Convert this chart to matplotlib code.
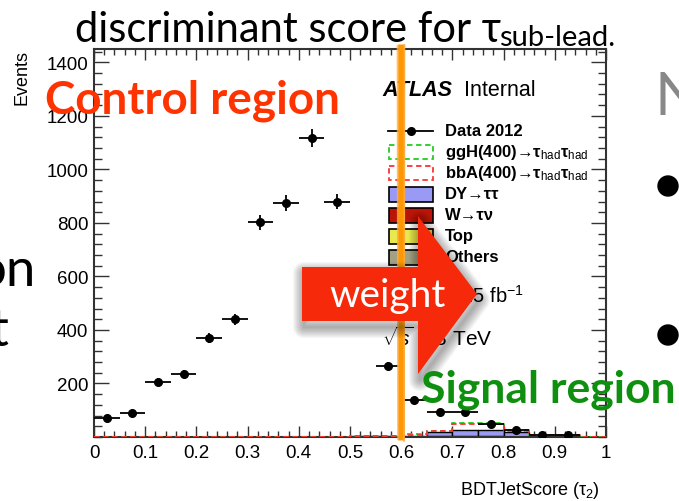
import numpy as np
import matplotlib
matplotlib.use("Agg")
import matplotlib.pyplot as plt
from matplotlib.patches import Rectangle, Polygon, Circle
from matplotlib.ticker import MultipleLocator

plt.rcParams["mathtext.fontset"] = "custom"
plt.rcParams["mathtext.rm"] = "Liberation Sans"
plt.rcParams["mathtext.it"] = "Liberation Sans:italic"
plt.rcParams["mathtext.bf"] = "Liberation Sans:bold"

W, H = 679, 502

# BDT score binning, 20 bins of 0.05
edges = np.linspace(0.0, 1.0, 21)
centers = 0.5 * (edges[:-1] + edges[1:])

data_2012 = [71, 90, 205, 235, 369, 440, 802, 873, 1116, 880,
             530, 265, 138, 93, 93, 48, 26, 7, 7, 0]

# backgrounds (stacked, bottom first)
bkg_others = [0, 0, 0, 0, 0, 0, 0, 0, 0, 0, 0.5, 0.5, 0.5, 0.5, 0.5, 0.5, 0.5, 0.5, 0.5, 0]
bkg_top = [0, 0, 0, 0, 0, 0, 0, 0, 0, 0, 0.3, 0.3, 0.3, 0.5, 0.5, 0.5, 0.3, 0.3, 0.3, 0]
bkg_w = [0, 0, 0, 0, 0, 0, 0, 0, 0, 0, 0.7, 0.7, 1, 1, 1, 1, 1, 0.7, 0.7, 0]
bkg_dy = [0, 0, 0, 0, 0, 0, 0, 0, 0, 0, 1, 2, 3, 18, 26, 26, 16, 3, 2, 0]

# signal hypotheses, drawn on top of the total background
sig_ggh = [0, 0, 0, 0, 0, 0, 0, 0, 0, 0, 0, 1, 6, 3, 24, 24, 7, 3, 3, 0]
sig_bba = [0, 0, 0, 0, 0, 0, 0, 0, 0, 0, 0, 1, 2, 2, 19, 19, 5, 4, 4, 0]

stack_names = ["Others", "Top", "W→τν", "DY→ττ"]
stack_values = [bkg_others, bkg_top, bkg_w, bkg_dy]
stack_colors = ["#a2a283", "#e9e84c", "#bb1408", "#9a9af5"]

x_ticks = [0, 0.1, 0.2, 0.3, 0.4, 0.5, 0.6, 0.7, 0.8, 0.9, 1.0]
x_ticklabels = ["0", "0.1", "0.2", "0.3", "0.4", "0.5", "0.6", "0.7", "0.8", "0.9", "1"]
y_ticks = [200, 400, 600, 800, 1000, 1200, 1400]

hel = ["Liberation Sans", "DejaVu Sans"]
gill = ["Lato", "DejaVu Sans"]

fig = plt.figure(figsize=(W / 100, H / 100), dpi=100)
ax = fig.add_axes([94 / W, 1 - 438 / H, 512 / W, 388 / H])

# background stack
bottom = np.zeros(len(centers))
drawn = np.array(bkg_dy) + np.array(bkg_w) + np.array(bkg_top) + np.array(bkg_others) > 0
for vals, col in zip(stack_values, stack_colors):
    v = np.array(vals, dtype=float)
    ax.bar(edges[:-1][drawn], v[drawn], width=0.05, bottom=bottom[drawn], align="edge",
           color=col, edgecolor="black", linewidth=1.0, zorder=2)
    bottom += v
total_bkg = bottom

for sig, col in [(sig_ggh, "#22cc22"), (sig_bba, "#ff3030")]:
    y = total_bkg + np.array(sig, dtype=float)
    ax.step(edges, np.append(y, y[-1]), where="post", color=col,
            linestyle=(0, (3, 2)), linewidth=1.3, zorder=3)

# data points with stat errors
d = np.array(data_2012, dtype=float)
m = d > 0
ax.errorbar(centers[m], d[m], xerr=0.025, yerr=np.sqrt(d[m]), fmt="o", color="black",
            markersize=5.5, elinewidth=1.3, capsize=0, zorder=4)

ax.set_xlim(0, 1)
ax.set_ylim(0, 1450)
ax.set_xticks(x_ticks)
ax.xaxis.set_minor_locator(MultipleLocator(0.02))
ax.set_yticks(y_ticks)
ax.yaxis.set_minor_locator(MultipleLocator(40))
ax.set_xticklabels(x_ticklabels, fontsize=13.5, family=hel)
ax.set_yticklabels([str(t) for t in y_ticks], fontsize=13.5, family=hel)
ax.tick_params(axis="both", which="both", direction="in", top=True, right=True,
               colors="#333333", labelcolor="black", width=1.0)
ax.tick_params(axis="y", which="major", length=11, pad=4)
ax.tick_params(axis="y", which="minor", length=5.5)
ax.tick_params(axis="x", which="major", length=8, pad=5)
ax.tick_params(axis="x", which="minor", length=4)
for sp in ax.spines.values():
    sp.set_linewidth(1.5)
    sp.set_color("#333333")

fig.text(22 / W, 1 - 50 / H, "Events", rotation=90, ha="center", va="top",
         fontsize=13, family=hel)
fig.text(600 / W, 1 - 491 / H, r"BDTJetScore (τ$_{2}$)", ha="right", va="center",
         fontsize=13, family=hel)

# overlay in pixel coordinates
ov = fig.add_axes([0, 0, 1, 1])
ov.set_xlim(0, W)
ov.set_ylim(H, 0)
ov.axis("off")
ov.patch.set_alpha(0)

# ATLAS label and legend
ov.text(382, 90, "ATLAS", ha="left", va="center", fontsize=15.5, family=hel,
        weight="bold", style="italic")
ov.text(464, 90, "Internal", ha="left", va="center", fontsize=15.5, family=hel)

leg_labels = ["Data 2012", r"ggH(400)→τ$_{\mathrm{had}}$τ$_{\mathrm{had}}$",
              r"bbA(400)→τ$_{\mathrm{had}}$τ$_{\mathrm{had}}$"] + stack_names[::-1]
leg_y = [132, 153, 174, 195, 216, 237, 258]
ov.plot([388, 433], [leg_y[0], leg_y[0]], color="black", lw=1.3)
ov.plot([411], [leg_y[0]], "o", color="black", markersize=5.5)
for yy, col in [(leg_y[1], "#22cc22"), (leg_y[2], "#ff3030")]:
    ov.add_patch(Rectangle((389, yy - 7), 44, 14, fill=False, edgecolor=col,
                           linestyle=(0, (3, 2)), lw=1.3))
for yy, col in zip(leg_y[3:], stack_colors[::-1]):
    ov.add_patch(Rectangle((389, yy - 7), 44, 15, facecolor=col, edgecolor="black", lw=1.2))
for yy, lab in zip(leg_y, leg_labels):
    ov.text(445, yy, lab, ha="left", va="center", fontsize=12, family=hel, weight="bold")

ov.text(382, 296, r"$\int$L dt = 19.5 fb$^{-1}$", ha="left", va="center",
        fontsize=14.5, family=hel)
ov.text(382, 338, r"$\sqrt{s}$ = 8 TeV", ha="left", va="center", fontsize=15, family=hel)

# orange marker stroke at the cut value
ov.plot([401, 401], [45, 441], color="#ff9800", lw=4.8, solid_capstyle="butt", zorder=5)
ov.plot([397.5, 398], [47, 440], color="#ffad4a", lw=1.2, alpha=0.8, zorder=5)
ov.plot([404.5, 404], [46, 442], color="#ffad4a", lw=1.2, alpha=0.8, zorder=5)

# weight arrow with soft shadow
arrow = [(302, 268), (418, 268), (418, 217), (477, 295), (418, 375), (418, 322), (302, 322)]
shadow = [(x + 2, y + 6) for x, y in arrow]
for k in range(10, 0, -1):
    ov.add_patch(Polygon(shadow, closed=True, facecolor="none", edgecolor="black",
                         lw=k * 1.6, alpha=0.035, joinstyle="round", zorder=6))
ov.add_patch(Polygon(arrow, closed=True, facecolor="#f6290a", edgecolor="none", zorder=7))
ov.text(388, 296, "weight", ha="center", va="center", fontsize=28, color="white",
        family=gill, zorder=8)

ov.text(45, 114, "Control region", ha="left", va="baseline", fontsize=33,
        color="#ff3300", weight="bold", family=gill, zorder=9)
ov.text(421, 403, "Signal region", ha="left", va="baseline", fontsize=32,
        color="#0f8f0f", weight="bold", family=gill, zorder=9)

# slide title and surrounding slide text
ov.text(75, 42, "discriminant score for τ", ha="left", va="baseline",
        fontsize=30, family=gill, zorder=9)
ov.text(499, 46, "sub-lead.", ha="left", va="baseline", fontsize=21, family=gill, zorder=9)
ov.text(36, 286, "on", ha="right", va="baseline", fontsize=38, family=gill)
ov.text(9, 346, "t", ha="right", va="baseline", fontsize=38, family=gill)
ov.text(655, 115, "N", ha="left", va="baseline", fontsize=43, color="#888888", family=gill)
ov.add_patch(Circle((668, 187), 10, color="black"))
ov.add_patch(Circle((668, 336), 10, color="black"))

fig.savefig("out.png", dpi=100)
